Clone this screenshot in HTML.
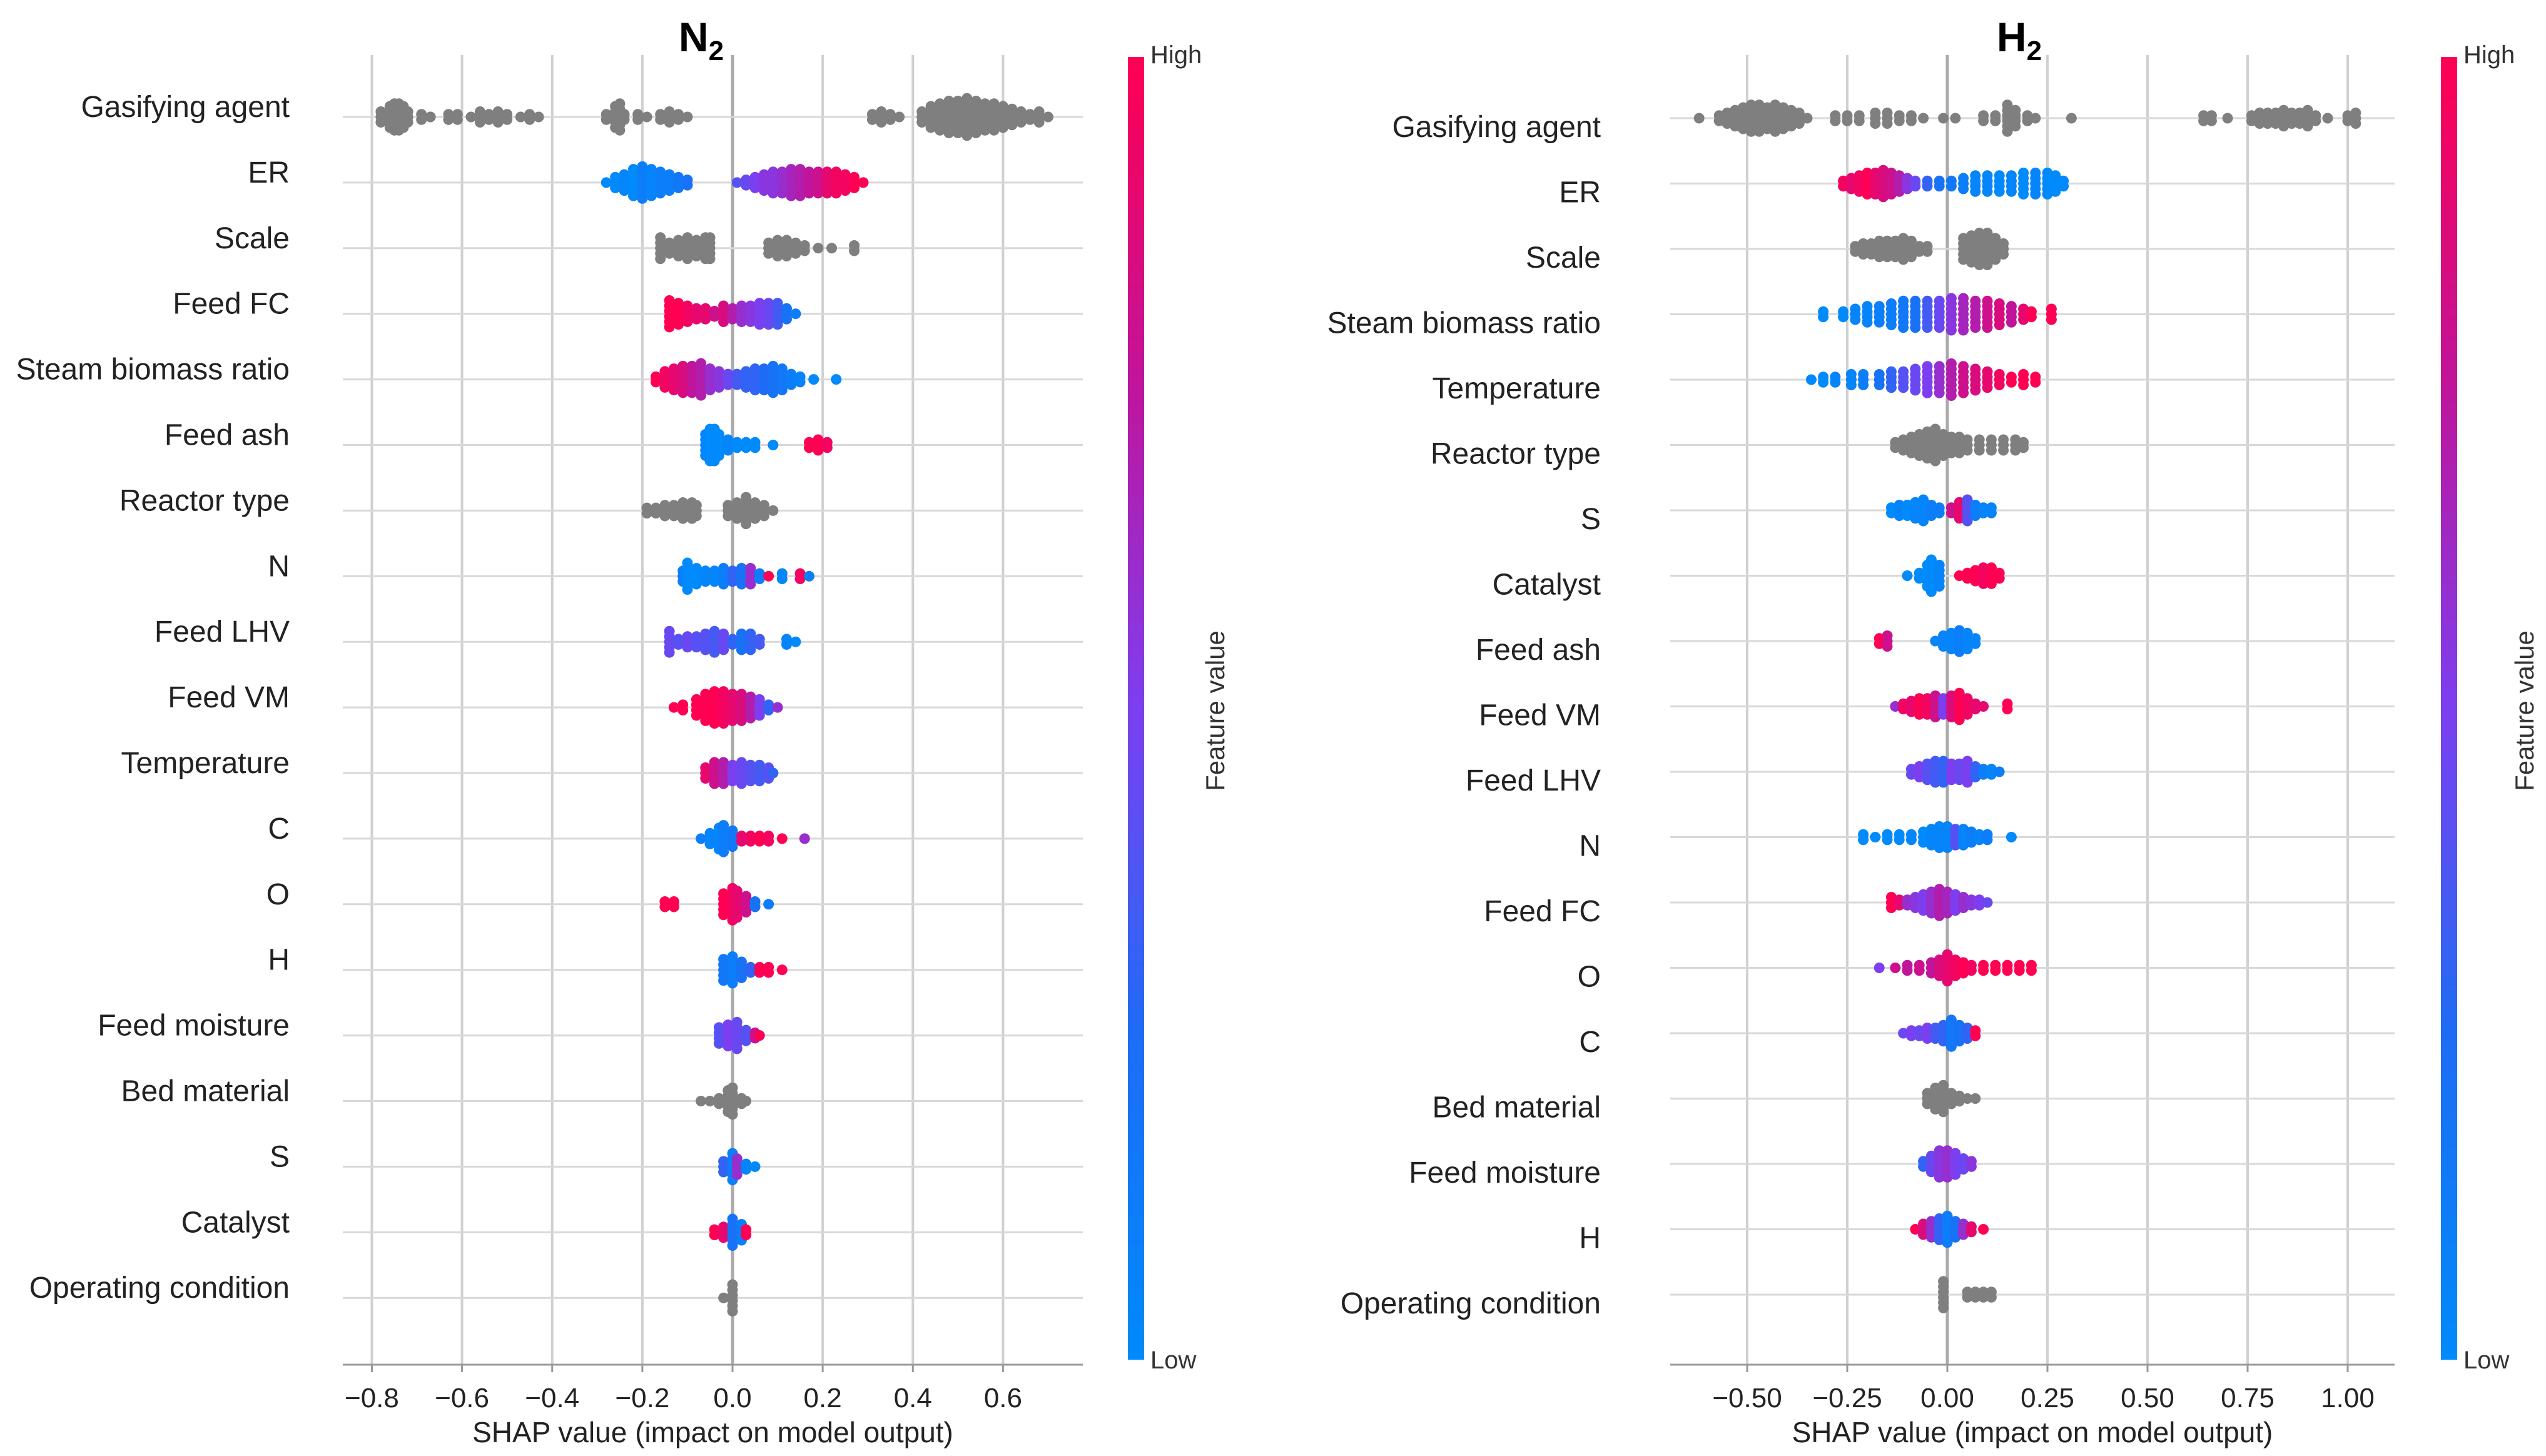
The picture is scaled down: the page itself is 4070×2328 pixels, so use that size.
<!DOCTYPE html>
<html><head><meta charset="utf-8">
<style>
html,body{margin:0;padding:0;background:#fff;}
svg{display:block;font-family:"Liberation Sans",Arial,sans-serif;}
</style></head>
<body>
<svg id="chart" width="4070" height="2328" viewBox="0 0 4070 2328" xmlns="http://www.w3.org/2000/svg">
<defs>
<linearGradient id="cbar" x1="0" y1="1" x2="0" y2="0">
<stop offset="0" stop-color="#008afb"/><stop offset="0.25" stop-color="#1e6cf5"/><stop offset="0.5" stop-color="#7c3ff0"/><stop offset="0.75" stop-color="#c0149a"/><stop offset="1" stop-color="#ff0052"/>
</linearGradient>
</defs>
</svg>
<script>
// ---- N2 chart data ----
const n2Features = ["Gasifying agent","ER","Scale","Feed FC","Steam biomass ratio","Feed ash","Reactor type","N","Feed LHV","Feed VM","Temperature","C","O","H","Feed moisture","Bed material","S","Catalyst","Operating condition"];
const n2Ticks = [-0.8,-0.6,-0.4,-0.2,0.0,0.2,0.4,0.6];
const n2TickLabels = ["\u22120.8","\u22120.6","\u22120.4","\u22120.2","0.0","0.2","0.4","0.6"];
// each bin: [shap value, count, feature value (0 low..1 high, -1 = grey)]
const n2Bins = [
[[-0.78,3,-1],[-0.76,5,-1],[-0.75,6,-1],[-0.74,6,-1],[-0.73,5,-1],[-0.72,3,-1],[-0.69,2,-1],[-0.67,1,-1],[-0.63,2,-1],[-0.61,2,-1],[-0.58,1,-1],[-0.56,3,-1],[-0.54,2,-1],[-0.52,3,-1],[-0.5,2,-1],[-0.47,1,-1],[-0.45,2,-1],[-0.43,1,-1],[-0.28,2,-1],[-0.26,5,-1],[-0.25,6,-1],[-0.24,2,-1],[-0.21,2,-1],[-0.19,1,-1],[-0.16,2,-1],[-0.14,3,-1],[-0.12,2,-1],[-0.1,1,-1],[0.31,2,-1],[0.33,3,-1],[0.35,2,-1],[0.37,1,-1],[0.42,3,-1],[0.44,5,-1],[0.46,6,-1],[0.48,7,-1],[0.5,7,-1],[0.52,8,-1],[0.54,7,-1],[0.56,6,-1],[0.58,6,-1],[0.6,5,-1],[0.62,4,-1],[0.64,3,-1],[0.66,2,-1],[0.68,3,-1],[0.7,1,-1]],
[[-0.28,1,0],[-0.26,3,0],[-0.24,4,0.05],[-0.22,6,0],[-0.2,7,0.1],[-0.18,6,0.05],[-0.16,5,0.1],[-0.14,4,0.1],[-0.12,3,0.15],[-0.1,2,0.2],[0.01,1,0.4],[0.03,2,0.45],[0.05,3,0.5],[0.07,4,0.55],[0.09,5,0.55],[0.11,5,0.6],[0.13,6,0.65],[0.15,6,0.7],[0.17,5,0.75],[0.19,5,0.8],[0.21,5,0.9],[0.23,5,0.95],[0.25,4,0.95],[0.27,3,1],[0.29,1,1]],
[[-0.16,5,-1],[-0.14,3,-1],[-0.12,4,-1],[-0.1,5,-1],[-0.08,4,-1],[-0.06,5,-1],[-0.05,5,-1],[0.08,3,-1],[0.1,4,-1],[0.12,4,-1],[0.14,3,-1],[0.16,2,-1],[0.19,1,-1],[0.22,1,-1],[0.27,2,-1]],
[[-0.14,6,1],[-0.12,5,1],[-0.1,4,0.95],[-0.08,3,0.9],[-0.06,3,0.9],[-0.04,2,0.8],[-0.02,4,0.85],[0,3,0.7],[0.02,4,0.6],[0.04,4,0.55],[0.06,5,0.5],[0.08,5,0.45],[0.1,5,0.35],[0.12,3,0.2],[0.14,1,0.1]],
[[-0.17,2,1],[-0.15,4,0.95],[-0.13,5,0.9],[-0.11,6,0.85],[-0.09,6,0.75],[-0.07,7,0.7],[-0.05,5,0.6],[-0.03,4,0.55],[-0.01,3,0.45],[0.01,3,0.35],[0.03,4,0.3],[0.05,5,0.3],[0.07,5,0.25],[0.09,6,0.2],[0.11,5,0.15],[0.13,3,0.1],[0.15,2,0.05],[0.18,1,0],[0.23,1,0]],
[[-0.06,5,0.05],[-0.05,7,0],[-0.04,7,0],[-0.03,5,0],[-0.01,3,0.05],[0.01,2,0],[0.03,2,0],[0.05,2,0],[0.09,1,0],[0.17,2,1],[0.19,3,1],[0.21,2,0.95]],
[[-0.19,2,-1],[-0.17,2,-1],[-0.15,3,-1],[-0.13,3,-1],[-0.11,4,-1],[-0.09,4,-1],[-0.08,3,-1],[-0.01,3,-1],[0.01,4,-1],[0.03,6,-1],[0.05,4,-1],[0.07,3,-1],[0.09,1,-1]],
[[-0.11,3,0.1],[-0.1,6,0],[-0.08,4,0],[-0.06,3,0.05],[-0.04,3,0.05],[-0.02,4,0.1],[0,3,0.3],[0.02,4,0.2],[0.04,4,0.6],[0.06,2,0.1],[0.08,1,1],[0.11,2,0.05],[0.15,2,0.95],[0.17,1,0.1]],
[[-0.14,5,0.45],[-0.12,2,0.4],[-0.1,3,0.45],[-0.08,3,0.4],[-0.06,4,0.4],[-0.04,5,0.35],[-0.02,4,0.45],[0,2,0.3],[0.02,4,0.2],[0.04,4,0.3],[0.06,2,0.35],[0.12,2,0.05],[0.14,1,0]],
[[-0.13,1,1],[-0.11,2,1],[-0.08,4,1],[-0.06,6,1],[-0.04,7,1],[-0.02,7,0.95],[0,6,0.9],[0.02,6,0.85],[0.04,5,0.7],[0.06,4,0.5],[0.08,2,0.3],[0.1,1,0.6]],
[[-0.06,3,0.9],[-0.04,5,0.8],[-0.02,5,0.7],[0,4,0.5],[0.02,5,0.45],[0.04,4,0.4],[0.06,4,0.35],[0.08,3,0.4],[0.09,1,0.3]],
[[-0.07,1,0.1],[-0.05,3,0.05],[-0.03,5,0.05],[-0.02,6,0.1],[0,4,0.15],[0.02,2,0.9],[0.04,2,0.95],[0.06,2,1],[0.08,2,0.95],[0.11,1,1],[0.16,1,0.6]],
[[-0.15,2,1],[-0.13,2,1],[-0.02,5,1],[0,7,0.95],[0.01,6,0.9],[0.03,4,0.8],[0.05,2,0.2],[0.08,1,0.1]],
[[-0.02,5,0.15],[0,6,0.1],[0.02,4,0.2],[0.04,2,0.3],[0.06,2,1],[0.08,2,1],[0.11,1,1]],
[[-0.03,4,0.4],[-0.01,5,0.5],[0.01,6,0.45],[0.03,3,0.4],[0.05,2,0.8],[0.06,1,1]],
[[-0.07,1,-1],[-0.05,1,-1],[-0.03,2,-1],[-0.01,5,-1],[0,6,-1],[0.02,2,-1],[0.03,1,-1]],
[[-0.02,3,0.3],[0,6,0.1],[0.01,4,0.6],[0.03,2,0.05],[0.05,1,0]],
[[-0.04,2,1],[-0.02,3,0.9],[0,6,0.2],[0.02,4,0.1],[0.03,2,1]],
[[-0.02,1,-1],[0,6,-1]]
];
// ---- H2 chart data ----
const h2Features = ["Gasifying agent","ER","Scale","Steam biomass ratio","Temperature","Reactor type","S","Catalyst","Feed ash","Feed VM","Feed  LHV","N","Feed FC","O","C","Bed material","Feed moisture","H","Operating condition"];
const h2Ticks = [-0.5,-0.25,0,0.25,0.5,0.75,1.0];
const h2TickLabels = ["\u22120.50","\u22120.25","0.00","0.25","0.50","0.75","1.00"];
const h2Bins = [
[[-0.62,1,-1],[-0.57,2,-1],[-0.55,3,-1],[-0.53,4,-1],[-0.51,5,-1],[-0.49,6,-1],[-0.47,6,-1],[-0.45,5,-1],[-0.43,6,-1],[-0.41,5,-1],[-0.39,4,-1],[-0.37,3,-1],[-0.35,1,-1],[-0.28,2,-1],[-0.25,2,-1],[-0.22,2,-1],[-0.18,3,-1],[-0.15,3,-1],[-0.12,2,-1],[-0.09,2,-1],[-0.06,1,-1],[-0.01,1,-1],[0.02,1,-1],[0.09,2,-1],[0.12,2,-1],[0.15,6,-1],[0.17,4,-1],[0.2,2,-1],[0.22,1,-1],[0.31,1,-1],[0.64,2,-1],[0.66,2,-1],[0.7,1,-1],[0.76,2,-1],[0.78,3,-1],[0.8,3,-1],[0.82,3,-1],[0.84,4,-1],[0.86,3,-1],[0.88,3,-1],[0.9,4,-1],[0.92,2,-1],[0.95,1,-1],[1.0,2,-1],[1.02,3,-1]],
[[-0.26,2,0.95],[-0.24,3,0.9],[-0.22,4,0.95],[-0.2,5,1],[-0.18,5,0.9],[-0.16,6,0.85],[-0.14,5,0.8],[-0.12,4,0.7],[-0.1,3,0.55],[-0.08,2,0.45],[-0.05,2,0.3],[-0.02,2,0.2],[0.01,2,0.15],[0.04,3,0.1],[0.07,4,0.05],[0.1,4,0.05],[0.13,4,0],[0.16,4,0.05],[0.19,5,0],[0.22,5,0.05],[0.25,5,0],[0.27,4,0],[0.29,2,0]],
[[-0.23,2,-1],[-0.21,3,-1],[-0.19,3,-1],[-0.17,4,-1],[-0.15,4,-1],[-0.13,4,-1],[-0.11,5,-1],[-0.09,4,-1],[-0.07,2,-1],[-0.05,2,-1],[0.04,5,-1],[0.06,6,-1],[0.08,7,-1],[0.1,7,-1],[0.12,5,-1],[0.14,3,-1]],
[[-0.31,2,0],[-0.26,2,0],[-0.23,3,0.05],[-0.2,4,0.05],[-0.17,4,0.1],[-0.14,5,0.1],[-0.11,6,0.15],[-0.08,6,0.2],[-0.05,6,0.35],[-0.02,6,0.45],[0.01,7,0.55],[0.04,7,0.65],[0.07,6,0.7],[0.1,6,0.8],[0.13,5,0.85],[0.16,4,0.75],[0.19,3,0.9],[0.21,2,1],[0.26,3,1]],
[[-0.34,1,0],[-0.31,2,0],[-0.28,2,0.05],[-0.24,3,0.05],[-0.21,3,0.1],[-0.17,3,0.2],[-0.14,4,0.3],[-0.11,4,0.4],[-0.08,5,0.45],[-0.05,6,0.5],[-0.02,6,0.6],[0.01,7,0.7],[0.04,6,0.8],[0.07,5,0.85],[0.1,4,0.9],[0.13,3,0.95],[0.16,2,1],[0.19,3,1],[0.22,2,1]],
[[-0.13,2,-1],[-0.11,3,-1],[-0.09,4,-1],[-0.07,5,-1],[-0.05,6,-1],[-0.03,7,-1],[-0.01,5,-1],[0.01,4,-1],[0.03,4,-1],[0.05,3,-1],[0.08,3,-1],[0.11,3,-1],[0.14,3,-1],[0.17,3,-1],[0.19,2,-1]],
[[-0.14,2,0],[-0.12,3,0.05],[-0.1,3,0],[-0.08,4,0.05],[-0.06,5,0.05],[-0.04,3,0.1],[-0.02,2,0.1],[0.01,2,0.8],[0.03,4,0.9],[0.05,5,0.4],[0.07,3,0.1],[0.09,2,0.05],[0.11,2,0.05]],
[[-0.1,1,0],[-0.07,2,0],[-0.05,5,0],[-0.04,7,0],[-0.02,5,0.05],[0.03,1,1],[0.05,2,1],[0.07,3,1],[0.09,4,0.95],[0.11,4,1],[0.13,2,1]],
[[-0.17,2,1],[-0.15,3,0.8],[-0.03,1,0.05],[-0.01,3,0.05],[0.01,4,0.05],[0.03,5,0.1],[0.05,4,0.05],[0.07,2,0.05]],
[[-0.13,1,0.6],[-0.11,2,0.95],[-0.09,3,0.9],[-0.07,4,1],[-0.05,4,0.95],[-0.03,5,0.8],[-0.01,4,0.5],[0.01,5,0.85],[0.03,6,1],[0.05,4,0.95],[0.07,2,0.9],[0.09,1,0.9],[0.15,2,1]],
[[-0.09,2,0.45],[-0.07,3,0.5],[-0.05,4,0.4],[-0.03,5,0.35],[-0.01,5,0.3],[0.01,4,0.5],[0.03,4,0.45],[0.05,5,0.5],[0.07,3,0.3],[0.09,2,0.1],[0.11,2,0.05],[0.13,1,0.1]],
[[-0.21,2,0],[-0.18,1,0],[-0.15,2,0],[-0.12,2,0],[-0.09,2,0.05],[-0.06,3,0],[-0.04,4,0.05],[-0.02,5,0.05],[0,5,0.05],[0.02,4,0.4],[0.04,4,0.05],[0.06,3,0.1],[0.08,2,0.05],[0.1,2,0.1],[0.16,1,0]],
[[-0.14,3,1],[-0.12,2,0.9],[-0.1,2,0.6],[-0.08,3,0.55],[-0.06,4,0.5],[-0.04,5,0.6],[-0.02,6,0.7],[0,5,0.65],[0.02,4,0.5],[0.04,3,0.6],[0.06,2,0.55],[0.08,2,0.5],[0.1,1,0.45]],
[[-0.17,1,0.5],[-0.13,1,0.8],[-0.1,2,0.75],[-0.07,2,0.8],[-0.04,3,0.75],[-0.02,4,0.85],[0,6,0.9],[0.02,4,0.95],[0.04,3,1],[0.06,2,0.95],[0.09,2,1],[0.12,2,1],[0.15,2,1],[0.18,2,1],[0.21,2,1]],
[[-0.11,1,0.45],[-0.09,2,0.5],[-0.07,2,0.45],[-0.05,3,0.5],[-0.03,3,0.35],[-0.01,4,0.3],[0.01,6,0.15],[0.03,4,0.2],[0.05,3,0.3],[0.07,2,1]],
[[-0.05,3,-1],[-0.03,5,-1],[-0.01,6,-1],[0.01,3,-1],[0.03,2,-1],[0.05,1,-1],[0.07,1,-1]],
[[-0.06,2,0.3],[-0.04,4,0.45],[-0.02,6,0.55],[0,6,0.6],[0.02,5,0.5],[0.04,3,0.45],[0.06,2,0.55]],
[[-0.08,1,1],[-0.06,3,0.85],[-0.04,4,0.6],[-0.02,5,0.3],[0,6,0.1],[0.02,4,0.2],[0.04,3,0.6],[0.06,2,0.9],[0.09,1,1]],
[[-0.01,6,-1],[0.05,2,-1],[0.07,2,-1],[0.09,2,-1],[0.11,2,-1]]
];

const svg = document.getElementById('chart');
const NS = 'http://www.w3.org/2000/svg';
function mk(tag, attrs, parent){
  const e = document.createElementNS(NS, tag);
  for (const k in attrs) e.setAttribute(k, attrs[k]);
  (parent||svg).appendChild(e);
  return e;
}
const stops = [[0,[0,138,251]],[0.25,[30,108,245]],[0.5,[124,63,240]],[0.75,[192,20,154]],[1,[255,0,82]]];
function colorOf(v){
  if (v < 0) return '#7f7f7f';
  for (let i=1;i<stops.length;i++){
    if (v <= stops[i][0]){
      const a=stops[i-1], b=stops[i], t=(v-a[0])/(b[0]-a[0]);
      const c=a[1].map((x,j)=>Math.round(x+(b[1][j]-x)*t));
      return 'rgb('+c.join(',')+')';
    }
  }
  return 'rgb(255,0,82)';
}

function drawPanel(cfg){
  const g = mk('g', {});
  
  
  const xScale = v => cfg.zeroX + v*cfg.pxPerUnit;
  const yRow = i => cfg.row0 + i*cfg.rowStep;
  cfg.ticks.forEach((t,i)=>{
    const l = mk('line',{x1:xScale(t),x2:xScale(t),y1:cfg.top,y2:cfg.axisY,stroke:'#d0d0d0','stroke-width':4},g);
    
    
  });
  const z = mk('line',{x1:xScale(0),x2:xScale(0),y1:cfg.top,y2:cfg.axisY,stroke:'#aaaaaa','stroke-width':5},g);
  
  
  cfg.features.forEach((f,i)=>{
    const y = yRow(i);
    const rl = mk('line',{x1:cfg.plotL,x2:cfg.plotR,y1:y,y2:y,stroke:'#d8d8d8','stroke-width':3},g);
    
    
    const tx = mk('text',{x:cfg.labelX,y:y+cfg.labelDy,'text-anchor':'end','font-size':48,fill:'#222'},g);
    tx.textContent = f;
    
    
    const rg = mk('g',{},g);
    
    
    cfg.bins[i].forEach(b=>{
      const [v,n,c] = b;
      for (let k=0;k<n;k++){
        const off = (k - (n-1)/2)*8.5;
        const dot = mk('circle',{cx:xScale(v),cy:y+off,r:8.5,fill:colorOf(c)},rg);
        
        
      }
    });
  });
  const ax = mk('line',{x1:cfg.plotL,x2:cfg.plotR,y1:cfg.axisY,y2:cfg.axisY,stroke:'#999','stroke-width':3},g);
  
  
  cfg.ticks.forEach((t,i)=>{
    const tk = mk('line',{x1:xScale(t),x2:xScale(t),y1:cfg.axisY,y2:cfg.axisY+12,stroke:'#999','stroke-width':3},g);
    
    
    const tl = mk('text',{x:xScale(t),y:cfg.axisY+68,'text-anchor':'middle','font-size':44,fill:'#222'},g);
    tl.textContent = cfg.tickLabels[i];
    
    
  });
  const xt = mk('text',{x:(cfg.plotL+cfg.plotR)/2,y:cfg.axisY+124,'text-anchor':'middle','font-size':46,fill:'#222'},g);
  xt.textContent = 'SHAP value (impact on model output)';
  
  
  const tt = mk('text',{x:cfg.titleX,y:82,'text-anchor':'middle','font-size':66,'font-weight':'bold',fill:'#000'},g);
  
  
  tt.textContent = cfg.title;
  const sub = mk('tspan',{'font-size':44,dy:14},tt);
  sub.textContent = '2';
  const cb = mk('rect',{x:cfg.cbX,y:cfg.cbTop,width:26,height:cfg.axisY-cfg.cbTop-8,fill:'url(#cbar)'},g);
  
  
  const hi = mk('text',{x:cfg.cbX+36,y:cfg.cbTop+10,'font-size':40,fill:'#333'},g);
  hi.textContent='High';
  
  
  const lo = mk('text',{x:cfg.cbX+36,y:cfg.axisY+6,'font-size':40,fill:'#333'},g);
  lo.textContent='Low';
  
  
  const cy = (cfg.cbTop+cfg.axisY)/2;
  const fv = mk('text',{x:cfg.fvX,y:cy,'text-anchor':'middle','font-size':42,fill:'#333',transform:'rotate(-90 '+cfg.fvX+' '+cy+')'},g);
  fv.textContent='Feature value';
  
  
}

drawPanel({name:'n2-panel',title:'N',features:n2Features,bins:n2Bins,ticks:n2Ticks,tickLabels:n2TickLabels,
  zeroX:1171,pxPerUnit:720.7,row0:187,rowStep:104.9,top:88,cbTop:91,axisY:2182,plotL:548,plotR:1731,labelX:463,
  labelDy:0,titleX:1121,cbX:1803,fvX:1957});
drawPanel({name:'h2-panel',title:'H',features:h2Features,bins:h2Bins,ticks:h2Ticks,tickLabels:h2TickLabels,
  zeroX:3113,pxPerUnit:640,row0:189,rowStep:104.5,top:88,cbTop:91,axisY:2182,plotL:2670,plotR:3828,labelX:2559,
  labelDy:30,titleX:3228,cbX:3902,fvX:4050});
</script>
</body></html>
